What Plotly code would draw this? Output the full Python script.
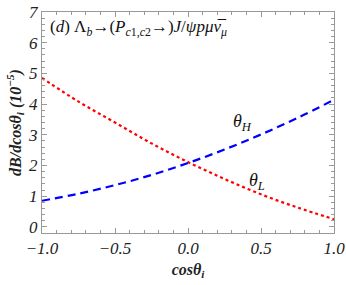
import plotly.graph_objects as go

cos_theta = [-1.0, -0.75, -0.5, -0.25, 0.0, 0.25, 0.5, 0.75, 1.0]
theta_L = [4.85, 4.08, 3.40, 2.72, 2.11, 1.56, 1.06, 0.63, 0.25]
theta_H = [0.85, 1.08, 1.36, 1.69, 2.08, 2.52, 3.01, 3.55, 4.14]
x_ticks = [-1.0, -0.5, 0.0, 0.5, 1.0]
x_ticklabels = ["\u22121.0", "\u22120.5", "0.0", "0.5", "1.0"]
y_ticks = [0, 1, 2, 3, 4, 5, 6, 7]

serif = "Liberation Serif, DejaVu Serif, serif"

fig = go.Figure()
fig.add_trace(go.Scatter(x=cos_theta, y=theta_L, mode="lines",
                         line=dict(color="#ff0000", width=2.2, dash="dot", shape="spline"),
                         showlegend=False))
fig.add_trace(go.Scatter(x=cos_theta, y=theta_H, mode="lines",
                         line=dict(color="#0000ff", width=2.2, dash="8px,5px", shape="spline"),
                         showlegend=False))

axis_common = dict(showline=True, linecolor="#999999", linewidth=1, mirror="ticks",
                   ticks="inside", ticklen=5, tickcolor="#999999", tickwidth=1,
                   showgrid=False, zeroline=False, automargin=False,
                   tickfont=dict(family=serif, size=17, color="#222222", style="italic"))

fig.update_xaxes(range=[-1, 1], tickvals=x_ticks, ticktext=x_ticklabels,
                 minor=dict(dtick=0.1, ticklen=3, ticks="inside", tickcolor="#999999", showgrid=False),
                 title=dict(text="<b><i>cos\u03b8<sub>i</sub></i></b>",
                            font=dict(family=serif, size=16, color="#222222"), standoff=6),
                 **axis_common)
fig.update_yaxes(range=[-0.2, 7], tickvals=y_ticks,
                 minor=dict(dtick=0.2, ticklen=3, ticks="inside", tickcolor="#999999", showgrid=False),
                 title=dict(text="<b><i>dB/dcos\u03b8<sub>i</sub> (10<sup>\u22125</sup>)</i></b>",
                            font=dict(family=serif, size=16, color="#222222"), standoff=2),
                 **axis_common)

fig.add_annotation(x=0.02, y=0.985, xref="paper", yref="paper", xanchor="left", yanchor="top",
                   showarrow=False,
                   text="(<i>d</i>) \u039b<sub><i>b</i></sub>\u2192(<i>P</i><sub><i>c</i>1,<i>c</i>2</sub>\u2192)<i>J</i>/<i>\u03c8p\u03bc</i><i>\u03bd\u0305</i><sub><i>\u03bc</i></sub>",
                   font=dict(family=serif, size=17, color="#111111"))
fig.add_annotation(x=0.37, y=3.39, showarrow=False, text="<i>\u03b8<sub>H</sub></i>",
                   font=dict(family=serif, size=18, color="#111111"))
fig.add_annotation(x=0.47, y=1.47, showarrow=False, text="<i>\u03b8<sub>L</sub></i>",
                   font=dict(family=serif, size=18, color="#111111"))

fig.update_layout(width=346, height=285, margin=dict(l=42, r=12, t=12, b=52),
                  paper_bgcolor="white", plot_bgcolor="white")

fig.write_html("out.html", config={"displayModeBar": False},
               post_script="document.body.style.margin='0';")
